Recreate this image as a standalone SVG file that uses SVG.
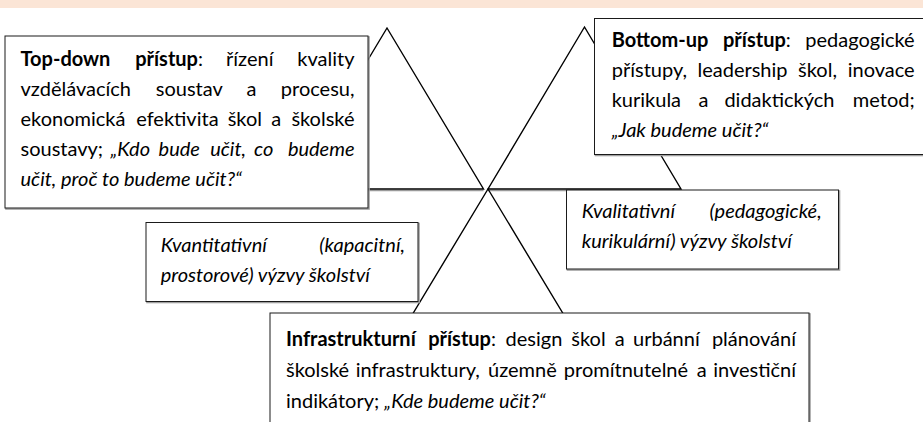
<svg xmlns="http://www.w3.org/2000/svg" width="923" height="422" viewBox="0 0 923 422">
<style>
.t{font-family:Lato,"Liberation Sans",sans-serif;font-size:20px;fill:#000}
.b{font-weight:bold}
.i{font-style:italic}
.e{text-anchor:end}
.box{fill:#fff;stroke:#1a1a1a;stroke-width:1}
.sh{fill:none;stroke:#a0a0a0;stroke-width:1.6}
.tri{fill:none;stroke:#000;stroke-width:1.4;stroke-linejoin:miter}
.trish{fill:none;stroke:#9a9a9a;stroke-width:1.4}
</style>
<rect width="923" height="422" fill="#fff"/>
<rect id="band" x="0" y="0" width="923" height="8" fill="#FBE5D6"/>
<g id="triangles">
  <polyline class="trish" points="290,190.5 483.5,190.5"/>
  <polyline class="trish" points="488,190.5 681,190.5"/>
  <polygon id="tri-left" class="tri" points="387,28 483.5,189 290.5,189"/>
  <polygon id="tri-right" class="tri" points="584.5,27 681,189 488,189"/>
  <polygon id="tri-bottom" class="tri" points="488,189 585,350 391,350"/>
</g>
<g id="connectors"></g>
<g id="topdown">
  <rect class="sh" x="6" y="37" width="363" height="172"/>
  <rect class="box" x="5" y="36" width="363" height="172"/>
  <text class="t" y="66"><tspan class="b" x="20.5">Top-down</tspan><tspan class="b" x="135.2">přístup</tspan><tspan>:</tspan><tspan x="226">řízení</tspan></text>
  <text class="t e" x="354.5" y="66">kvality</text>
  <text class="t" y="96"><tspan x="20.5">vzdělávacích</tspan><tspan x="155.8">soustav</tspan><tspan x="246.4">a</tspan></text>
  <text class="t e" x="354.5" y="96">procesu,</text>
  <text class="t" y="126"><tspan x="20.5">ekonomická</tspan><tspan x="136.2">efektivita</tspan><tspan x="227.7">škol</tspan><tspan x="271.3">a</tspan></text>
  <text class="t e" x="354.5" y="126">školské</text>
  <text class="t" y="156"><tspan x="20.5">soustavy;</tspan><tspan class="i" x="110.5">„Kdo</tspan><tspan class="i" x="158.6">bude</tspan><tspan class="i" x="210.2">učit,</tspan><tspan class="i" x="254">co</tspan></text>
  <text class="t e i" x="354.5" y="156">budeme</text>
  <text class="t i" x="20.5" y="186">učit, proč to budeme učit?“</text>
</g>
<g id="bottomup">
  <rect class="sh" x="595.5" y="19.5" width="340" height="136"/>
  <rect class="box" x="594.5" y="18.5" width="340" height="136"/>
  <text class="t" y="47"><tspan class="b" x="611.7">Bottom-up</tspan><tspan class="b" x="723">přístup</tspan><tspan>:</tspan></text>
  <text class="t e" x="914.7" y="47">pedagogické</text>
  <text class="t" y="77"><tspan x="611.7">přístupy,</tspan><tspan x="697.5">leadership</tspan><tspan x="798.1">škol,</tspan></text>
  <text class="t e" x="914.7" y="77">inovace</text>
  <text class="t" y="107"><tspan x="611.7">kurikula</tspan><tspan x="698.5">a</tspan><tspan x="724.4">didaktických</tspan></text>
  <text class="t e" x="914.7" y="107">metod;</text>
  <text class="t i" x="611.7" y="137">„Jak budeme učit?“</text>
</g>
<g id="kvalitativni">
  <rect class="sh" x="567.5" y="191" width="272" height="79"/>
  <rect class="box" x="566.5" y="190" width="272" height="79"/>
  <text class="t i" x="581.7" y="218">Kvalitativní</text>
  <text class="t i e" x="821.7" y="218">(pedagogické,</text>
  <text class="t i" x="581.7" y="248">kurikulární) výzvy školství</text>
</g>
<g id="kvantitativni">
  <rect class="sh" x="147" y="223.5" width="272" height="79"/>
  <rect class="box" x="146" y="222.5" width="272" height="79"/>
  <text class="t i" x="160.7" y="252">Kvantitativní</text>
  <text class="t i e" x="405" y="252">(kapacitní,</text>
  <text class="t i" x="160.7" y="282">prostorové) výzvy školství</text>
</g>
<g id="infrastrukturni">
  <rect class="sh" x="271" y="314" width="539" height="130"/>
  <rect class="box" x="270" y="313" width="539" height="130"/>
  <text class="t" y="346"><tspan class="b" x="286">Infrastrukturní</tspan><tspan class="b" x="428.2">přístup</tspan><tspan>:</tspan><tspan x="505.6">design</tspan><tspan x="571.3">škol</tspan><tspan x="614.7">a</tspan><tspan x="633">urbánní</tspan></text>
  <text class="t e" x="796" y="346">plánování</text>
  <text class="t" y="377"><tspan x="286">školské</tspan><tspan x="355.8">infrastruktury,</tspan><tspan x="488">územně</tspan><tspan x="563.8">promítnutelné</tspan><tspan x="696.8">a</tspan></text>
  <text class="t e" x="796" y="377">investiční</text>
  <text class="t" x="286" y="408">indikátory; <tspan class="i">„Kde budeme učit?“</tspan></text>
</g>
</svg>
